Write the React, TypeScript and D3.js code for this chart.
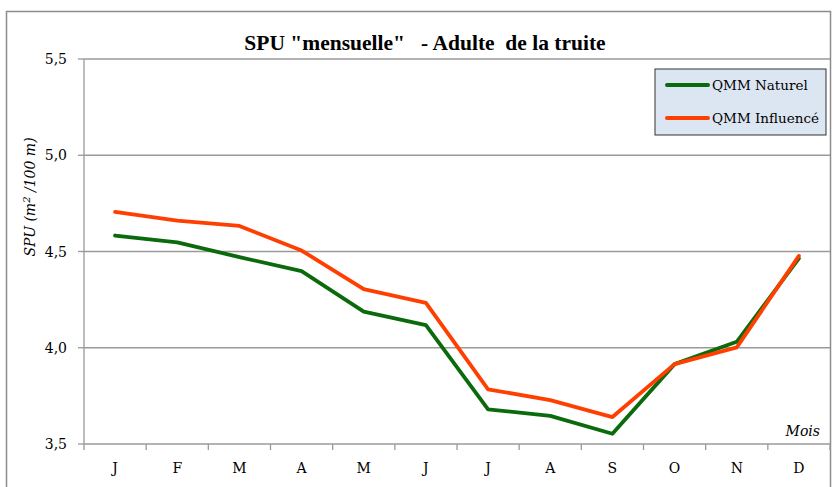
import React from "react";
import * as d3 from "d3";

const months = ["J", "F", "M", "A", "M", "J", "J", "A", "S", "O", "N", "D"];
const naturel = [4.583, 4.547, 4.471, 4.398, 4.188, 4.117, 3.68, 3.646, 3.553, 3.915, 4.031, 4.464];
const influence = [4.706, 4.66, 4.633, 4.505, 4.305, 4.233, 3.784, 3.728, 3.64, 3.915, 4.002, 4.477];
const yTicks = [3.5, 4.0, 4.5, 5.0, 5.5];
const seriesNames = ["QMM Naturel", "QMM Influencé"];
const seriesColors = ["#0b6a0b", "#ff3f00"];

const W = 833;
const H = 487;
const left = 84;
const right = 830;
const top = 59;
const bottom = 444;

export default function App() {
  const idx = months.map((_, i) => i);
  const x = d3.scaleBand<number>().domain(idx).range([left, right]).padding(0);
  const y = d3.scaleLinear().domain([3.5, 5.5]).range([bottom, top]);
  const line = d3
    .line<number>()
    .x((_, i) => (x(i) as number) + x.bandwidth() / 2)
    .y((d) => y(d));
  const fmt = (v: number) => v.toFixed(1).replace(".", ",");
  const serif = "'DejaVu Serif', serif";
  const bounds = idx.map((i) => x(i) as number).concat([right]);

  return (
    <svg width={W} height={H} style={{ position: "absolute", left: 0, top: 0, background: "#fff" }}>
      <rect x={6.5} y={11.5} width={824} height={500} fill="#fff" stroke="#8c8c8c" strokeWidth={1.5} />
      <text
        x={425}
        y={50}
        textAnchor="middle"
        fontFamily="'Liberation Serif', serif"
        fontWeight="bold"
        fontSize={21.5}
        fill="#000"
        style={{ whiteSpace: "pre" }}
        xmlSpace="preserve"
      >
        {'SPU "mensuelle"   - Adulte  de la truite'}
      </text>
      {yTicks.map((t) => (
        <g key={t}>
          <line x1={left} x2={right} y1={y(t)} y2={y(t)} stroke="#9a9a9a" strokeWidth={1.3} />
          <line x1={left - 6} x2={left} y1={y(t)} y2={y(t)} stroke="#9a9a9a" strokeWidth={1.3} />
          <text x={67} y={y(t) + 5} textAnchor="end" fontFamily={serif} fontSize={14} fill="#000">
            {fmt(t)}
          </text>
        </g>
      ))}
      <line x1={left} x2={left} y1={top} y2={bottom} stroke="#9a9a9a" strokeWidth={1.3} />
      {bounds.map((b, i) => (
        <line key={i} x1={b} x2={b} y1={bottom} y2={bottom + 6} stroke="#9a9a9a" strokeWidth={1.3} />
      ))}
      {months.map((m, i) => (
        <text
          key={i}
          x={(x(i) as number) + x.bandwidth() / 2}
          y={473}
          textAnchor="middle"
          fontFamily={serif}
          fontSize={14}
          fill="#000"
        >
          {m}
        </text>
      ))}
      <text x={820} y={436} textAnchor="end" fontFamily={serif} fontStyle="italic" fontSize={14} fill="#000">
        Mois
      </text>
      <text
        transform="translate(35,197) rotate(-90)"
        textAnchor="middle"
        fontFamily={serif}
        fontStyle="italic"
        fontSize={14}
        fill="#000"
      >
        SPU (m<tspan dy={-5} fontSize={10}>2</tspan>
        <tspan dy={5}> /100 m)</tspan>
      </text>
      {[naturel, influence].map((s, k) => (
        <path
          key={k}
          d={line(s) as string}
          fill="none"
          stroke={seriesColors[k]}
          strokeWidth={3.8}
          strokeLinejoin="round"
          strokeLinecap="round"
        />
      ))}
      <rect x={655} y={69} width={171} height={66} fill="#dce6f2" stroke="#333" strokeWidth={1} />
      {seriesNames.map((n, k) => (
        <g key={n}>
          <line
            x1={667}
            x2={708}
            y1={85 + k * 33}
            y2={85 + k * 33}
            stroke={seriesColors[k]}
            strokeWidth={4}
            strokeLinecap="round"
          />
          <text x={712} y={85 + k * 33 + 5} fontFamily={serif} fontSize={13.5} fill="#000">
            {n}
          </text>
        </g>
      ))}
    </svg>
  );
}
